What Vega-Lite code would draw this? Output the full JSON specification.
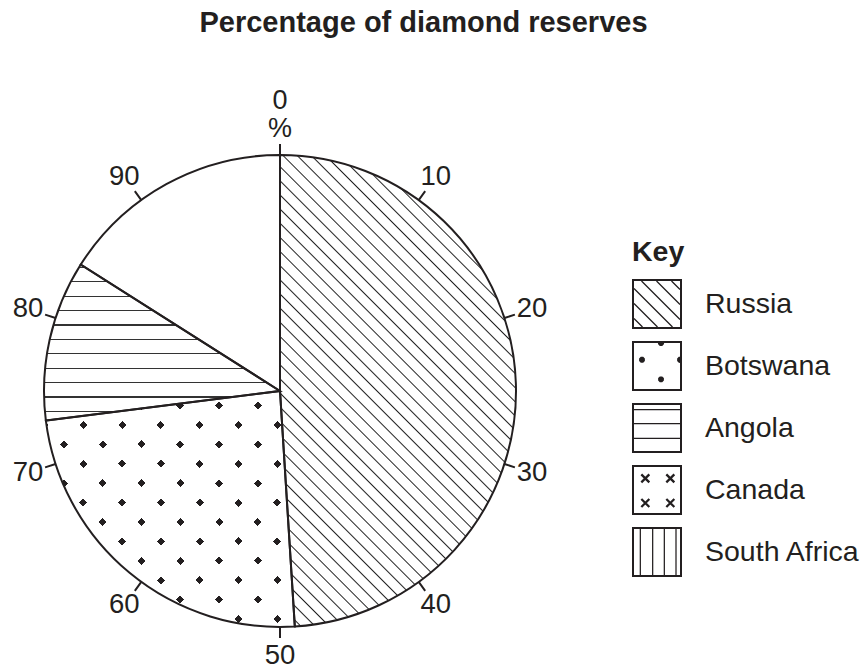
{
  "$schema": "https://vega.github.io/schema/vega-lite/v6.json",
  "width": 560,
  "height": 558,
  "padding": {"top": 9, "left": 0, "right": 0, "bottom": 0},
  "background": "white",
  "title": {"text": "Percentage of diamond reserves", "font": "Liberation Sans", "fontSize": 29, "fontWeight": "bold", "color": "#231f20", "anchor": "middle", "frame": "group", "dx": 143.5, "offset": 49},
  "config": {"view": {"stroke": null}},
  "datasets": {
    "slices": [
      {"country": "Russia", "share": 49, "rank": 1},
      {"country": "Botswana", "share": 24, "rank": 2},
      {"country": "Angola", "share": 11, "rank": 3},
      {"country": "Other", "share": 16, "rank": 4}
    ],
    "ticks": [
      {"pct": 0, "label": "0"}, {"pct": 10, "label": "10"}, {"pct": 20, "label": "20"}, {"pct": 30, "label": "30"}, {"pct": 40, "label": "40"},
      {"pct": 50, "label": "50"}, {"pct": 60, "label": "60"}, {"pct": 70, "label": "70"}, {"pct": 80, "label": "80"}, {"pct": 90, "label": "90"}
    ],
    "key": [
      {"country": "Russia"}, {"country": "Botswana"}, {"country": "Angola"}, {"country": "Canada"}, {"country": "South Africa"}
    ]
  },
  "layer": [
    {
      "data": {"name": "slices"},
      "transform": [
        {"stack": "share", "groupby": [], "sort": [{"field": "rank", "order": "ascending"}], "as": ["start", "end"]},
        {"filter": "datum.country === 'Russia'"}
      ],
      "mark": {"type": "arc", "innerRadius": 0, "outerRadius": 236, "strokeWidth": 0,
        "fill": {"gradient": "linear", "x1": 0, "y1": 1, "x2": 0.6006, "y2": -0.2, "stops": [
          {"offset":0.008,"color":"#fff"},{"offset":0.010,"color":"#222"},{"offset":0.012,"color":"#fff"},
          {"offset":0.028,"color":"#fff"},{"offset":0.030,"color":"#222"},{"offset":0.032,"color":"#fff"},
          {"offset":0.048,"color":"#fff"},{"offset":0.050,"color":"#222"},{"offset":0.052,"color":"#fff"},
          {"offset":0.068,"color":"#fff"},{"offset":0.070,"color":"#222"},{"offset":0.072,"color":"#fff"},
          {"offset":0.088,"color":"#fff"},{"offset":0.090,"color":"#222"},{"offset":0.092,"color":"#fff"},
          {"offset":0.108,"color":"#fff"},{"offset":0.110,"color":"#222"},{"offset":0.112,"color":"#fff"},
          {"offset":0.128,"color":"#fff"},{"offset":0.130,"color":"#222"},{"offset":0.132,"color":"#fff"},
          {"offset":0.148,"color":"#fff"},{"offset":0.150,"color":"#222"},{"offset":0.152,"color":"#fff"},
          {"offset":0.168,"color":"#fff"},{"offset":0.170,"color":"#222"},{"offset":0.172,"color":"#fff"},
          {"offset":0.188,"color":"#fff"},{"offset":0.190,"color":"#222"},{"offset":0.192,"color":"#fff"},
          {"offset":0.208,"color":"#fff"},{"offset":0.210,"color":"#222"},{"offset":0.212,"color":"#fff"},
          {"offset":0.228,"color":"#fff"},{"offset":0.230,"color":"#222"},{"offset":0.232,"color":"#fff"},
          {"offset":0.248,"color":"#fff"},{"offset":0.250,"color":"#222"},{"offset":0.252,"color":"#fff"},
          {"offset":0.268,"color":"#fff"},{"offset":0.270,"color":"#222"},{"offset":0.272,"color":"#fff"},
          {"offset":0.288,"color":"#fff"},{"offset":0.290,"color":"#222"},{"offset":0.292,"color":"#fff"},
          {"offset":0.308,"color":"#fff"},{"offset":0.310,"color":"#222"},{"offset":0.312,"color":"#fff"},
          {"offset":0.328,"color":"#fff"},{"offset":0.330,"color":"#222"},{"offset":0.332,"color":"#fff"},
          {"offset":0.348,"color":"#fff"},{"offset":0.350,"color":"#222"},{"offset":0.352,"color":"#fff"},
          {"offset":0.368,"color":"#fff"},{"offset":0.370,"color":"#222"},{"offset":0.372,"color":"#fff"},
          {"offset":0.388,"color":"#fff"},{"offset":0.390,"color":"#222"},{"offset":0.392,"color":"#fff"},
          {"offset":0.408,"color":"#fff"},{"offset":0.410,"color":"#222"},{"offset":0.412,"color":"#fff"},
          {"offset":0.428,"color":"#fff"},{"offset":0.430,"color":"#222"},{"offset":0.432,"color":"#fff"},
          {"offset":0.448,"color":"#fff"},{"offset":0.450,"color":"#222"},{"offset":0.452,"color":"#fff"},
          {"offset":0.468,"color":"#fff"},{"offset":0.470,"color":"#222"},{"offset":0.472,"color":"#fff"},
          {"offset":0.488,"color":"#fff"},{"offset":0.490,"color":"#222"},{"offset":0.492,"color":"#fff"},
          {"offset":0.508,"color":"#fff"},{"offset":0.510,"color":"#222"},{"offset":0.512,"color":"#fff"},
          {"offset":0.528,"color":"#fff"},{"offset":0.530,"color":"#222"},{"offset":0.532,"color":"#fff"},
          {"offset":0.548,"color":"#fff"},{"offset":0.550,"color":"#222"},{"offset":0.552,"color":"#fff"},
          {"offset":0.568,"color":"#fff"},{"offset":0.570,"color":"#222"},{"offset":0.572,"color":"#fff"},
          {"offset":0.588,"color":"#fff"},{"offset":0.590,"color":"#222"},{"offset":0.592,"color":"#fff"},
          {"offset":0.608,"color":"#fff"},{"offset":0.610,"color":"#222"},{"offset":0.612,"color":"#fff"},
          {"offset":0.628,"color":"#fff"},{"offset":0.630,"color":"#222"},{"offset":0.632,"color":"#fff"},
          {"offset":0.648,"color":"#fff"},{"offset":0.650,"color":"#222"},{"offset":0.652,"color":"#fff"},
          {"offset":0.668,"color":"#fff"},{"offset":0.670,"color":"#222"},{"offset":0.672,"color":"#fff"},
          {"offset":0.688,"color":"#fff"},{"offset":0.690,"color":"#222"},{"offset":0.692,"color":"#fff"},
          {"offset":0.708,"color":"#fff"},{"offset":0.710,"color":"#222"},{"offset":0.712,"color":"#fff"},
          {"offset":0.728,"color":"#fff"},{"offset":0.730,"color":"#222"},{"offset":0.732,"color":"#fff"},
          {"offset":0.748,"color":"#fff"},{"offset":0.750,"color":"#222"},{"offset":0.752,"color":"#fff"},
          {"offset":0.768,"color":"#fff"},{"offset":0.770,"color":"#222"},{"offset":0.772,"color":"#fff"},
          {"offset":0.788,"color":"#fff"},{"offset":0.790,"color":"#222"},{"offset":0.792,"color":"#fff"},
          {"offset":0.808,"color":"#fff"},{"offset":0.810,"color":"#222"},{"offset":0.812,"color":"#fff"},
          {"offset":0.828,"color":"#fff"},{"offset":0.830,"color":"#222"},{"offset":0.832,"color":"#fff"},
          {"offset":0.848,"color":"#fff"},{"offset":0.850,"color":"#222"},{"offset":0.852,"color":"#fff"},
          {"offset":0.868,"color":"#fff"},{"offset":0.870,"color":"#222"},{"offset":0.872,"color":"#fff"},
          {"offset":0.888,"color":"#fff"},{"offset":0.890,"color":"#222"},{"offset":0.892,"color":"#fff"},
          {"offset":0.908,"color":"#fff"},{"offset":0.910,"color":"#222"},{"offset":0.912,"color":"#fff"},
          {"offset":0.928,"color":"#fff"},{"offset":0.930,"color":"#222"},{"offset":0.932,"color":"#fff"},
          {"offset":0.948,"color":"#fff"},{"offset":0.950,"color":"#222"},{"offset":0.952,"color":"#fff"},
          {"offset":0.968,"color":"#fff"},{"offset":0.970,"color":"#222"},{"offset":0.972,"color":"#fff"},
          {"offset":0.988,"color":"#fff"},{"offset":0.990,"color":"#222"},{"offset":0.992,"color":"#fff"}
        ]}},
      "encoding": {
        "theta": {"field": "start", "type": "quantitative", "scale": {"domain": [0, 100], "range": [0, 6.283185307179586]}},
        "theta2": {"field": "end"}
      }
    },
    {
      "data": {"name": "slices"},
      "transform": [
        {"stack": "share", "groupby": [], "sort": [{"field": "rank", "order": "ascending"}], "as": ["start", "end"]},
        {"filter": "datum.country === 'Botswana'"}
      ],
      "mark": {"type": "arc", "innerRadius": 0, "outerRadius": 236, "strokeWidth": 0,
        "fill": {"gradient": "linear", "x1": 0, "y1": 1, "x2": 1.026, "y2": 0.0274, "stops": [
          {"offset":0.0055,"color":"#fff"},{"offset":0.0055,"color":"#231f20"},{"offset":0.0220,"color":"#231f20"},{"offset":0.0220,"color":"#fff"},
          {"offset":0.0855,"color":"#fff"},{"offset":0.0855,"color":"#231f20"},{"offset":0.1020,"color":"#231f20"},{"offset":0.1020,"color":"#fff"},
          {"offset":0.1655,"color":"#fff"},{"offset":0.1655,"color":"#231f20"},{"offset":0.1820,"color":"#231f20"},{"offset":0.1820,"color":"#fff"},
          {"offset":0.2455,"color":"#fff"},{"offset":0.2455,"color":"#231f20"},{"offset":0.2620,"color":"#231f20"},{"offset":0.2620,"color":"#fff"},
          {"offset":0.3255,"color":"#fff"},{"offset":0.3255,"color":"#231f20"},{"offset":0.3420,"color":"#231f20"},{"offset":0.3420,"color":"#fff"},
          {"offset":0.4055,"color":"#fff"},{"offset":0.4055,"color":"#231f20"},{"offset":0.4220,"color":"#231f20"},{"offset":0.4220,"color":"#fff"},
          {"offset":0.4855,"color":"#fff"},{"offset":0.4855,"color":"#231f20"},{"offset":0.5020,"color":"#231f20"},{"offset":0.5020,"color":"#fff"},
          {"offset":0.5655,"color":"#fff"},{"offset":0.5655,"color":"#231f20"},{"offset":0.5820,"color":"#231f20"},{"offset":0.5820,"color":"#fff"},
          {"offset":0.6455,"color":"#fff"},{"offset":0.6455,"color":"#231f20"},{"offset":0.6620,"color":"#231f20"},{"offset":0.6620,"color":"#fff"},
          {"offset":0.7255,"color":"#fff"},{"offset":0.7255,"color":"#231f20"},{"offset":0.7420,"color":"#231f20"},{"offset":0.7420,"color":"#fff"},
          {"offset":0.8055,"color":"#fff"},{"offset":0.8055,"color":"#231f20"},{"offset":0.8220,"color":"#231f20"},{"offset":0.8220,"color":"#fff"},
          {"offset":0.8855,"color":"#fff"},{"offset":0.8855,"color":"#231f20"},{"offset":0.9020,"color":"#231f20"},{"offset":0.9020,"color":"#fff"},
          {"offset":0.9655,"color":"#fff"},{"offset":0.9655,"color":"#231f20"},{"offset":0.9820,"color":"#231f20"},{"offset":0.9820,"color":"#fff"}
        ]}},
      "encoding": {
        "theta": {"field": "start", "type": "quantitative", "scale": {"domain": [0, 100], "range": [0, 6.283185307179586]}},
        "theta2": {"field": "end"}
      }
    },
    {
      "data": {"name": "slices"},
      "transform": [
        {"stack": "share", "groupby": [], "sort": [{"field": "rank", "order": "ascending"}], "as": ["start", "end"]},
        {"filter": "datum.country === 'Botswana'"}
      ],
      "mark": {"type": "arc", "innerRadius": 0, "outerRadius": 236, "strokeWidth": 0,
        "fill": {"gradient": "linear", "x1": 0, "y1": 0, "x2": 1.026, "y2": 0.9726, "stops": [
          {"offset":0.0590,"color":"#fff"},{"offset":0.0590,"color":"rgba(255,255,255,0)"},{"offset":0.0755,"color":"rgba(255,255,255,0)"},{"offset":0.0755,"color":"#fff"},
          {"offset":0.1390,"color":"#fff"},{"offset":0.1390,"color":"rgba(255,255,255,0)"},{"offset":0.1555,"color":"rgba(255,255,255,0)"},{"offset":0.1555,"color":"#fff"},
          {"offset":0.2190,"color":"#fff"},{"offset":0.2190,"color":"rgba(255,255,255,0)"},{"offset":0.2355,"color":"rgba(255,255,255,0)"},{"offset":0.2355,"color":"#fff"},
          {"offset":0.2990,"color":"#fff"},{"offset":0.2990,"color":"rgba(255,255,255,0)"},{"offset":0.3155,"color":"rgba(255,255,255,0)"},{"offset":0.3155,"color":"#fff"},
          {"offset":0.3790,"color":"#fff"},{"offset":0.3790,"color":"rgba(255,255,255,0)"},{"offset":0.3955,"color":"rgba(255,255,255,0)"},{"offset":0.3955,"color":"#fff"},
          {"offset":0.4590,"color":"#fff"},{"offset":0.4590,"color":"rgba(255,255,255,0)"},{"offset":0.4755,"color":"rgba(255,255,255,0)"},{"offset":0.4755,"color":"#fff"},
          {"offset":0.5390,"color":"#fff"},{"offset":0.5390,"color":"rgba(255,255,255,0)"},{"offset":0.5555,"color":"rgba(255,255,255,0)"},{"offset":0.5555,"color":"#fff"},
          {"offset":0.6190,"color":"#fff"},{"offset":0.6190,"color":"rgba(255,255,255,0)"},{"offset":0.6355,"color":"rgba(255,255,255,0)"},{"offset":0.6355,"color":"#fff"},
          {"offset":0.6990,"color":"#fff"},{"offset":0.6990,"color":"rgba(255,255,255,0)"},{"offset":0.7155,"color":"rgba(255,255,255,0)"},{"offset":0.7155,"color":"#fff"},
          {"offset":0.7790,"color":"#fff"},{"offset":0.7790,"color":"rgba(255,255,255,0)"},{"offset":0.7955,"color":"rgba(255,255,255,0)"},{"offset":0.7955,"color":"#fff"},
          {"offset":0.8590,"color":"#fff"},{"offset":0.8590,"color":"rgba(255,255,255,0)"},{"offset":0.8755,"color":"rgba(255,255,255,0)"},{"offset":0.8755,"color":"#fff"},
          {"offset":0.9390,"color":"#fff"},{"offset":0.9390,"color":"rgba(255,255,255,0)"},{"offset":0.9555,"color":"rgba(255,255,255,0)"},{"offset":0.9555,"color":"#fff"}
        ]}},
      "encoding": {
        "theta": {"field": "start", "type": "quantitative", "scale": {"domain": [0, 100], "range": [0, 6.283185307179586]}},
        "theta2": {"field": "end"}
      }
    },
    {
      "data": {"name": "slices"},
      "transform": [
        {"stack": "share", "groupby": [], "sort": [{"field": "rank", "order": "ascending"}], "as": ["start", "end"]},
        {"filter": "datum.country === 'Angola'"}
      ],
      "mark": {"type": "arc", "innerRadius": 0, "outerRadius": 236, "strokeWidth": 0,
        "fill": {"gradient": "linear", "x1": 0, "y1": 0, "x2": 0, "y2": 1, "stops": [
          {"offset":0.0139,"color":"#fff"},{"offset":0.0139,"color":"#333"},{"offset":0.0215,"color":"#333"},{"offset":0.0215,"color":"#fff"},
          {"offset":0.1062,"color":"#fff"},{"offset":0.1062,"color":"#333"},{"offset":0.1138,"color":"#333"},{"offset":0.1138,"color":"#fff"},
          {"offset":0.1985,"color":"#fff"},{"offset":0.1985,"color":"#333"},{"offset":0.2061,"color":"#333"},{"offset":0.2061,"color":"#fff"},
          {"offset":0.2908,"color":"#fff"},{"offset":0.2908,"color":"#333"},{"offset":0.2984,"color":"#333"},{"offset":0.2984,"color":"#fff"},
          {"offset":0.3831,"color":"#fff"},{"offset":0.3831,"color":"#333"},{"offset":0.3907,"color":"#333"},{"offset":0.3907,"color":"#fff"},
          {"offset":0.4753,"color":"#fff"},{"offset":0.4753,"color":"#333"},{"offset":0.4829,"color":"#333"},{"offset":0.4829,"color":"#fff"},
          {"offset":0.5676,"color":"#fff"},{"offset":0.5676,"color":"#333"},{"offset":0.5752,"color":"#333"},{"offset":0.5752,"color":"#fff"},
          {"offset":0.6599,"color":"#fff"},{"offset":0.6599,"color":"#333"},{"offset":0.6675,"color":"#333"},{"offset":0.6675,"color":"#fff"},
          {"offset":0.7522,"color":"#fff"},{"offset":0.7522,"color":"#333"},{"offset":0.7598,"color":"#333"},{"offset":0.7598,"color":"#fff"},
          {"offset":0.8445,"color":"#fff"},{"offset":0.8445,"color":"#333"},{"offset":0.8521,"color":"#333"},{"offset":0.8521,"color":"#fff"},
          {"offset":0.9368,"color":"#fff"},{"offset":0.9368,"color":"#333"},{"offset":0.9444,"color":"#333"},{"offset":0.9444,"color":"#fff"}
        ]}},
      "encoding": {
        "theta": {"field": "start", "type": "quantitative", "scale": {"domain": [0, 100], "range": [0, 6.283185307179586]}},
        "theta2": {"field": "end"}
      }
    },
    {
      "data": {"name": "slices"},
      "transform": [
        {"stack": "share", "groupby": [], "sort": [{"field": "rank", "order": "ascending"}], "as": ["start", "end"]}
      ],
      "mark": {"type": "arc", "innerRadius": 0, "outerRadius": 236, "fill": "transparent", "stroke": "#231f20", "strokeWidth": 2},
      "encoding": {
        "theta": {"field": "start", "type": "quantitative", "scale": {"domain": [0, 100], "range": [0, 6.283185307179586]}},
        "theta2": {"field": "end"}
      }
    },
    {
      "data": {"name": "ticks"},
      "mark": {"type": "arc", "innerRadius": 236, "outerRadius": 247, "color": "#231f20", "stroke": "#231f20", "strokeWidth": 2},
      "encoding": {
        "theta": {"field": "pct", "type": "quantitative", "scale": {"domain": [0, 100], "range": [0, 6.283185307179586]}},
        "theta2": {"field": "pct"}
      }
    },
    {
      "data": {"name": "ticks"},
      "transform": [{"filter": "datum.pct > 0"}],
      "mark": {"type": "text", "radius": 265, "font": "Liberation Sans", "fontSize": 27.5, "color": "#231f20", "align": "center", "baseline": "middle"},
      "encoding": {
        "theta": {"field": "pct", "type": "quantitative", "stack": null, "scale": {"domain": [0, 100], "range": [0, 6.283185307179586]}},
        "text": {"field": "label"}
      }
    },
    {
      "data": {"name": "ticks"},
      "transform": [{"filter": "datum.pct === 0"}],
      "mark": {"type": "text", "radius": 290, "font": "Liberation Sans", "fontSize": 27, "color": "#231f20", "align": "center", "baseline": "middle"},
      "encoding": {
        "theta": {"field": "pct", "type": "quantitative", "stack": null, "scale": {"domain": [0, 100], "range": [0, 6.283185307179586]}},
        "text": {"field": "label"}
      }
    },
    {
      "data": {"name": "ticks"},
      "transform": [{"filter": "datum.pct === 0"}],
      "mark": {"type": "text", "radius": 262, "font": "Liberation Sans", "fontSize": 27, "color": "#231f20", "align": "center", "baseline": "middle"},
      "encoding": {
        "theta": {"field": "pct", "type": "quantitative", "stack": null, "scale": {"domain": [0, 100], "range": [0, 6.283185307179586]}},
        "text": {"value": "%"}
      }
    },
    {
      "data": {"name": "key"},
      "mark": {"type": "point", "filled": true, "opacity": 0, "color": "#231f20"},
      "encoding": {
        "shape": {
          "field": "country", "type": "nominal",
          "scale": {
            "domain": ["Russia", "Botswana", "Angola", "Canada", "South Africa"],
            "range": [
              "M-1,-1H1V1H-1ZM-0.92,-0.92V0.92H0.92V-0.92ZM-0.602,-0.938L0.938,0.602L0.902,0.638L-0.638,-0.902ZM-0.002,-0.938L0.938,0.002L0.902,0.038L-0.038,-0.902ZM0.598,-0.938L0.938,-0.598L0.902,-0.562L0.562,-0.902ZM-0.902,-0.638L0.638,0.902L0.602,0.938L-0.938,-0.602ZM-0.902,-0.038L0.038,0.902L0.002,0.938L-0.938,-0.002ZM-0.902,0.562L-0.562,0.902L-0.598,0.938L-0.938,0.598Z",
              "M-1,-1H1V1H-1ZM-0.92,-0.92V0.92H0.92V-0.92ZM-0.485,-0.298L-0.485,-0.202L-0.552,-0.135L-0.648,-0.135L-0.716,-0.202L-0.716,-0.298L-0.648,-0.366L-0.552,-0.366ZM0.276,0.482L0.276,0.578L0.208,0.646L0.112,0.646L0.045,0.578L0.045,0.482L0.112,0.415L0.208,0.415ZM0.92,-0.125L0.872,-0.135L0.805,-0.202L0.805,-0.298L0.872,-0.366L0.92,-0.375ZM0.285,-0.92L0.276,-0.872L0.208,-0.805L0.112,-0.805L0.045,-0.872L0.035,-0.92Z",
              "M-1,-1H1V1H-1ZM-0.92,-0.92V0.92H0.92V-0.92ZM-0.92,-0.758H0.92V-0.708H-0.92ZM-0.92,-0.198H0.92V-0.148H-0.92ZM-0.92,0.388H0.92V0.438H-0.92Z",
              "M-1,-1H1V1H-1ZM-0.92,-0.92V0.92H0.92V-0.92ZM-0.595,-0.659L-0.275,-0.339L-0.339,-0.275L-0.659,-0.595ZM-0.275,-0.595L-0.595,-0.275L-0.659,-0.339L-0.339,-0.659ZM0.405,-0.659L0.725,-0.339L0.661,-0.275L0.341,-0.595ZM0.725,-0.595L0.405,-0.275L0.341,-0.339L0.661,-0.659ZM-0.595,0.328L-0.275,0.648L-0.339,0.712L-0.659,0.392ZM-0.275,0.392L-0.595,0.712L-0.659,0.648L-0.339,0.328ZM0.405,0.328L0.725,0.648L0.661,0.712L0.341,0.392ZM0.725,0.392L0.405,0.712L0.341,0.648L0.661,0.328Z",
              "M-1,-1H1V1H-1ZM-0.92,-0.92V0.92H0.92V-0.92ZM-0.692,-0.92H-0.642V0.92H-0.692ZM-0.198,-0.92H-0.148V0.92H-0.198ZM0.268,-0.92H0.318V0.92H0.268ZM0.735,-0.92H0.785V0.92H0.735Z"
            ]
          },
          "legend": {
            "title": "Key", "orient": "none", "legendX": 632, "legendY": 125.5, "padding": 0,
            "titleFont": "Liberation Sans", "titleFontSize": 28.5, "titleFontWeight": "bold", "titleColor": "#231f20", "titlePadding": 13,
            "labelFont": "Liberation Sans", "labelFontSize": 28.5, "labelColor": "#231f20", "labelOffset": 23, "labelLimit": 400,
            "symbolSize": 2500, "symbolStrokeWidth": 0, "symbolFillColor": "#231f20", "symbolStrokeColor": "#231f20", "symbolOpacity": 1,
            "rowPadding": 12,
            "encode": {"symbols": {"update": {"fill": {"value": "#231f20"}, "strokeWidth": {"value": 0}, "opacity": {"value": 1}}}}
          }
        }
      }
    }
  ]
}
